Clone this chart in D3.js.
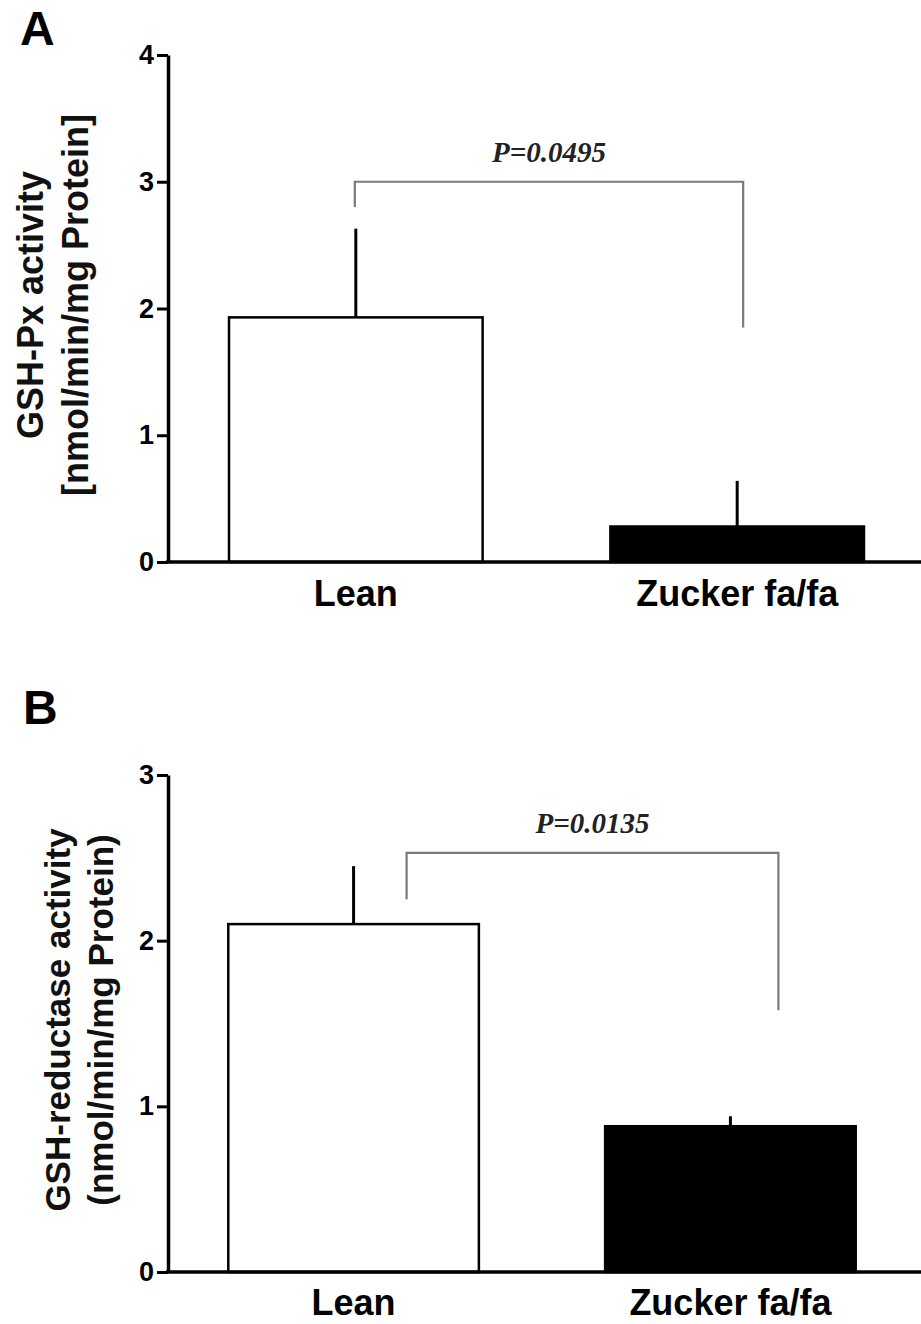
<!DOCTYPE html>
<html>
<head>
<meta charset="utf-8">
<script src="https://cdn.jsdelivr.net/npm/d3@7"></script>
<style>
	body { margin: 0; background: #fff; }
	svg { display: block; }
</style>
</head>
<body>
<svg width="921" height="1324"></svg>
<script>
// groups on the x axis
const groups = ['Lean', 'Zucker fa/fa']

// panel A: GSH-Px activity
const gpxMean = [1.93, 0.28]
const gpxSem = [0.70, 0.36]
const gpxTicks = [0, 1, 2, 3, 4]
// bracket: [bar level, left foot, right foot]
const gpxBracket = [3.0, 2.80, 1.85]
const gpxP = 'P=0.0495'

// panel B: GSH-reductase activity
const grMean = [2.10, 0.88]
const grSem = [0.35, 0.06]
const grTicks = [0, 1, 2, 3]
const grBracket = [2.53, 2.25, 1.58]
const grP = 'P=0.0135'

const fills = ['#fff', '#000']
const sans = 'Arial, "Liberation Sans", sans-serif'
const serif = '"Liberation Serif", "Times New Roman", serif'

let svg = d3.select('svg')

function drawPanel(cfg) {
	let g = svg.append('g')

	let x = d3.scaleBand()
		.domain(groups)
		.range([cfg.left, cfg.right])
		.paddingInner(0.335)
		.paddingOuter(0.16)

	let y = d3.scaleLinear()
		.domain([0, d3.max(cfg.ticks)])
		.range([cfg.bottom, cfg.top])

	// bars
	g.selectAll('rect.bar')
		.data(cfg.mean)
		.enter()
		.append('rect')
		.attr('class', 'bar')
		.attr('x', (d, i) => x(groups[i]))
		.attr('y', d => y(d))
		.attr('width', x.bandwidth())
		.attr('height', d => y(0) - y(d))
		.attr('fill', (d, i) => fills[i])
		.attr('stroke', '#000')
		.attr('stroke-width', 2.5)

	// upper error bars
	g.selectAll('line.err')
		.data(cfg.mean)
		.enter()
		.append('line')
		.attr('class', 'err')
		.attr('x1', (d, i) => x(groups[i]) + x.bandwidth() / 2)
		.attr('x2', (d, i) => x(groups[i]) + x.bandwidth() / 2)
		.attr('y1', d => y(d))
		.attr('y2', (d, i) => y(d + cfg.sem[i]))
		.attr('stroke', '#000')
		.attr('stroke-width', 3)

	// axes
	let leftAxis = d3.axisLeft(y)
		.tickValues(cfg.ticks)
		.tickFormat(d3.format('d'))
		.tickSize(11)
		.tickSizeOuter(0)
		.tickPadding(3)
	let leftAxisG = g.append('g')
		.attr('transform', `translate(${cfg.left}, 0)`)
		.call(leftAxis)
	leftAxisG.select('.domain').attr('stroke-width', 3.5)
	leftAxisG.selectAll('.tick line').attr('stroke-width', 3)
	leftAxisG.selectAll('.tick text')
		.style('font-family', sans)
		.style('font-size', '27px')
		.style('font-weight', 'bold')
		.attr('fill', '#000')

	let bottomAxis = d3.axisBottom(x).tickSize(0).tickPadding(cfg.catPad)
	let bottomAxisG = g.append('g')
		.attr('transform', `translate(0, ${cfg.bottom})`)
		.call(bottomAxis)
	bottomAxisG.select('.domain')
		.attr('d', `M${cfg.left - 2},0H921`)
		.attr('stroke-width', 3.5)
	bottomAxisG.selectAll('.tick text')
		.style('font-family', sans)
		.style('font-size', '36px')
		.style('font-weight', 'bold')
		.attr('fill', '#000')

	// y label, two lines
	cfg.label.forEach((line, i) => {
		g.append('text')
			.attr('transform', `translate(${cfg.labelX[i]}, ${cfg.labelY}) rotate(-90)`)
			.attr('text-anchor', 'middle')
			.style('font-family', sans)
			.style('font-size', cfg.labelSize + 'px')
			.style('font-weight', 'bold')
			.attr('fill', '#111')
			.text(line)
	})

	// panel letter
	g.append('text')
		.attr('x', cfg.letterPos[0])
		.attr('y', cfg.letterPos[1])
		.style('font-family', sans)
		.style('font-size', '48px')
		.style('font-weight', 'bold')
		.text(cfg.letter)

	// significance bracket
	let bx1 = x(groups[0]) + x.bandwidth() / 2 + cfg.bracketDx[0]
	let bx2 = x(groups[1]) + x.bandwidth() / 2 + cfg.bracketDx[1]
	let b = cfg.bracket
	g.append('path')
		.attr('d', `M${bx1},${y(b[1])}V${y(b[0])}H${bx2}V${y(b[2])}`)
		.attr('fill', 'none')
		.attr('stroke', '#7a7a7a')
		.attr('stroke-width', 2.2)

	g.append('text')
		.attr('x', (bx1 + bx2) / 2)
		.attr('y', y(b[0]) - 20)
		.attr('text-anchor', 'middle')
		.style('font-family', serif)
		.style('font-style', 'italic')
		.style('font-weight', 'bold')
		.style('font-size', '29px')
		.attr('fill', '#222')
		.text(cfg.p)
}

drawPanel({
	left: 168, right: 925, top: 55, bottom: 562,
	mean: gpxMean, sem: gpxSem, ticks: gpxTicks,
	bracket: gpxBracket, bracketDx: [-1, 6], p: gpxP,
	label: ['GSH-Px activity', '[nmol/min/mg Protein]'],
	labelX: [43, 88], labelY: 305, labelSize: 36,
	catPad: 18,
	letter: 'A', letterPos: [20, 45]
})

drawPanel({
	left: 168, right: 916, top: 775, bottom: 1272,
	mean: grMean, sem: grSem, ticks: grTicks,
	bracket: grBracket, bracketDx: [53, 48], p: grP,
	label: ['GSH-reductase activity', '(nmol/min/mg Protein)'],
	labelX: [70, 113], labelY: 1020, labelSize: 35,
	catPad: 17,
	letter: 'B', letterPos: [23, 724]
})
</script>
</body>
</html>
